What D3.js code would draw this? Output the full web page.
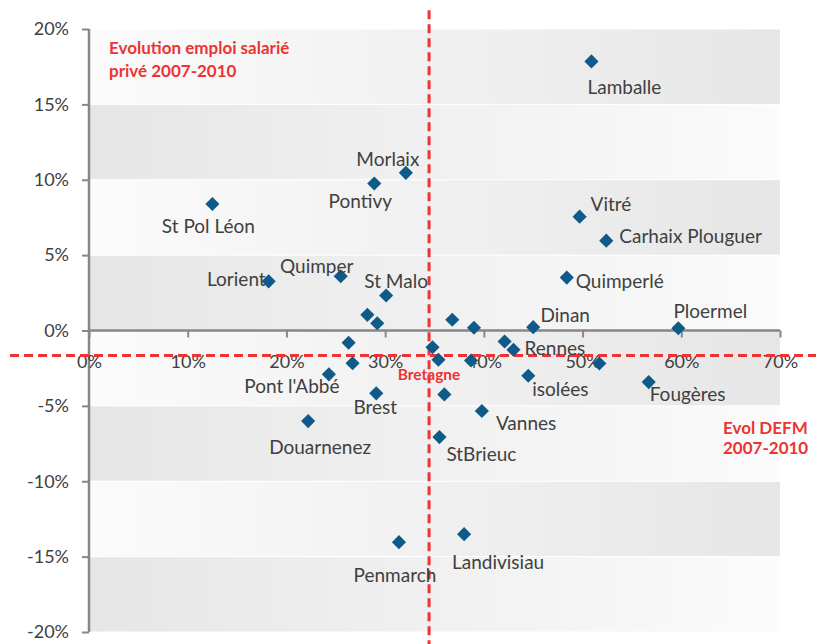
<!DOCTYPE html>
<html>
<head>
<meta charset="utf-8">
<script src="https://cdn.jsdelivr.net/npm/d3@7"></script>
<style>
  html, body { margin: 0; padding: 0; background: #ffffff; }
  svg { display: block; }
  text { font-family: Lato, "Open Sans", sans-serif; }
</style>
</head>
<body>
<div id="chart"></div>
<script>
// ---------- DATA ----------
const names = ["Lamballe","Morlaix","Pontivy","St Pol Léon","Vitré","Carhaix Plouguer","Lorient","Quimper","St Malo","Quimperlé","Dinan","Ploermel",
  "","","","","","","","Rennes","","","","","Pont l'Abbé","isolées","Brest","","Vannes","Douarnenez","StBrieuc","Fougères","Landivisiau","Penmarch"];
// Evol DEFM 2007-2010 (%)
const defm = [50.9,32.1,28.9,12.5,49.7,52.4,18.2,25.5,30.1,48.4,45.0,59.7,
  28.2,29.2,36.8,39.0,26.3,34.8,42.1,43.0,26.7,35.4,38.7,51.7,24.3,44.5,29.1,36.0,39.8,22.2,35.5,56.7,38.0,31.4];
// Evolution emploi salarié privé 2007-2010 (%)
const emploi = [17.85,10.46,9.75,8.39,7.55,5.96,3.26,3.6,2.32,3.51,0.22,0.15,
  1.04,0.48,0.71,0.18,-0.81,-1.11,-0.73,-1.28,-2.17,-1.94,-1.99,-2.19,-2.91,-3.0,-4.17,-4.24,-5.34,-6.01,-7.07,-3.42,-13.51,-14.04];
const bretagne = { defm: 34.45, emploi: -1.66 };
const xTicks = [0,10,20,30,40,50,60,70];
const yTicks = [20,15,10,5,0,-5,-10,-15,-20];
const titleLines = ["Evolution emploi salarié", "privé 2007-2010"];
const xTitleLines = ["Evol DEFM", "2007-2010"];

// ---------- LAYOUT (label placement relative to marker) ----------
const labelLayout = {
  "Lamballe": [-4, 25, "start"], "Morlaix": [-18, -14, "middle"], "Pontivy": [-14, 17, "middle"],
  "St Pol Léon": [-4, 21, "middle"], "Vitré": [11, -13, "start"], "Carhaix Plouguer": [13, -5, "start"],
  "Lorient": [-3, -3, "end"], "Quimper": [-24, -11, "middle"], "St Malo": [10, -15, "middle"],
  "Quimperlé": [9, 3, "start"], "Dinan": [32, -13, "middle"], "Ploermel": [32, -18, "middle"],
  "Rennes": [11, -2, "start"], "Pont l'Abbé": [-37, 11, "middle"], "isolées": [4, 13, "start"],
  "Brest": [-1, 13, "middle"], "Vannes": [14, 11, "start"], "Douarnenez": [12, 25, "middle"],
  "StBrieuc": [7, 16, "start"], "Fougères": [1, 11, "start"], "Landivisiau": [34, 27, "middle"],
  "Penmarch": [-4, 32, "middle"]
};

const W = 816, H = 644;
const RED = "#ee3333", BLUE = "#0e5a88", TXT = "#404040", AX = "#878787";

const svg = d3.select("#chart").append("svg").attr("width", W).attr("height", H);

const x = d3.scaleLinear().domain([0, 70]).range([89, 780]);
const y = d3.scaleLinear().domain([-20, 20]).range([632, 29]);

// gradients
const defs = svg.append("defs");
const g1 = defs.append("linearGradient").attr("id", "gWG");
g1.append("stop").attr("offset", "0%").attr("stop-color", "#fbfbfb");
g1.append("stop").attr("offset", "100%").attr("stop-color", "#e6e6e6");
const g2 = defs.append("linearGradient").attr("id", "gGW");
g2.append("stop").attr("offset", "0%").attr("stop-color", "#e6e6e6");
g2.append("stop").attr("offset", "100%").attr("stop-color", "#fbfbfb");

// bands
const bands = d3.pairs(yTicks);
svg.append("g").selectAll("rect").data(bands).join("rect")
  .attr("x", x(0)).attr("width", x(70) - x(0))
  .attr("y", d => y(d[0])).attr("height", d => y(d[1]) - y(d[0]))
  .attr("fill", (d, i) => i % 2 === 0 ? "url(#gWG)" : "url(#gGW)");

// white gridlines
svg.append("g").selectAll("line").data(yTicks).join("line")
  .attr("x1", x(0)).attr("x2", x(70)).attr("y1", d => y(d)).attr("y2", d => y(d))
  .attr("stroke", "#ffffff").attr("stroke-width", 1);

// Y axis
const yAxis = svg.append("g").attr("transform", `translate(${x(0)},0)`)
  .call(d3.axisLeft(y).tickValues(yTicks).tickSize(7).tickPadding(13).tickFormat(d => d + "%"));
yAxis.select(".domain").attr("stroke", AX).attr("stroke-width", 2.5).attr("d", `M0,${y(20)}V${y(-20)}`);
yAxis.selectAll(".tick line").attr("stroke", AX).attr("stroke-width", 2);
yAxis.selectAll(".tick text").attr("fill", TXT).attr("font-size", 18).attr("font-family", "Lato");

// X axis at y=0
const xAxis = svg.append("g").attr("transform", `translate(0,${y(0)})`)
  .call(d3.axisBottom(x).tickValues(xTicks).tickSize(7).tickPadding(18).tickFormat(d => d + "%"));
xAxis.select(".domain").attr("stroke", AX).attr("stroke-width", 2.5).attr("d", `M${x(0)},0H${x(70)}`);
xAxis.selectAll(".tick line").attr("stroke", AX).attr("stroke-width", 2);
xAxis.selectAll(".tick text").attr("fill", TXT).attr("font-size", 18).attr("font-family", "Lato");

// Bretagne reference lines
svg.append("line")
  .attr("x1", x(bretagne.defm)).attr("x2", x(bretagne.defm))
  .attr("y1", y(21.25)).attr("y2", H)
  .attr("stroke", RED).attr("stroke-width", 3).attr("stroke-dasharray", "9,5");
svg.append("line")
  .attr("x1", x(-8)).attr("x2", W)
  .attr("y1", y(bretagne.emploi)).attr("y2", y(bretagne.emploi))
  .attr("stroke", RED).attr("stroke-width", 2.8).attr("stroke-dasharray", "9,5");

// points
const pts = names.map((n, i) => ({ name: n, x: defm[i], y: emploi[i] }));
const sym = d3.symbol().type(d3.symbolSquare).size(100);
svg.append("g").selectAll("path").data(pts).join("path")
  .attr("d", sym)
  .attr("transform", d => `translate(${x(d.x)},${y(d.y)}) rotate(45)`)
  .attr("fill", BLUE);

// labels
svg.append("g").selectAll("text").data(pts.filter(d => d.name)).join("text")
  .attr("x", d => x(d.x) + labelLayout[d.name][0])
  .attr("y", d => y(d.y) + labelLayout[d.name][1])
  .attr("text-anchor", d => labelLayout[d.name][2])
  .attr("dominant-baseline", "central")
  .attr("fill", TXT).attr("font-size", 19)
  .text(d => d.name);

// Bretagne label
svg.append("text")
  .attr("x", x(bretagne.defm)).attr("y", y(bretagne.emploi) + 18.5)
  .attr("text-anchor", "middle").attr("dominant-baseline", "central")
  .attr("fill", RED).attr("font-weight", "bold").attr("font-size", 15.5)
  .text("Bretagne");

// Y title (top-left)
svg.append("g").selectAll("text").data(titleLines).join("text")
  .attr("x", 109).attr("y", (d, i) => 47 + i * 23)
  .attr("dominant-baseline", "central")
  .attr("fill", RED).attr("font-weight", "bold").attr("font-size", 17)
  .text(d => d);

// X title (right)
svg.append("g").selectAll("text").data(xTitleLines).join("text")
  .attr("x", 723).attr("y", (d, i) => 427 + i * 20)
  .attr("dominant-baseline", "central")
  .attr("fill", RED).attr("font-weight", "bold").attr("font-size", 17)
  .text(d => d);
</script>
</body>
</html>
